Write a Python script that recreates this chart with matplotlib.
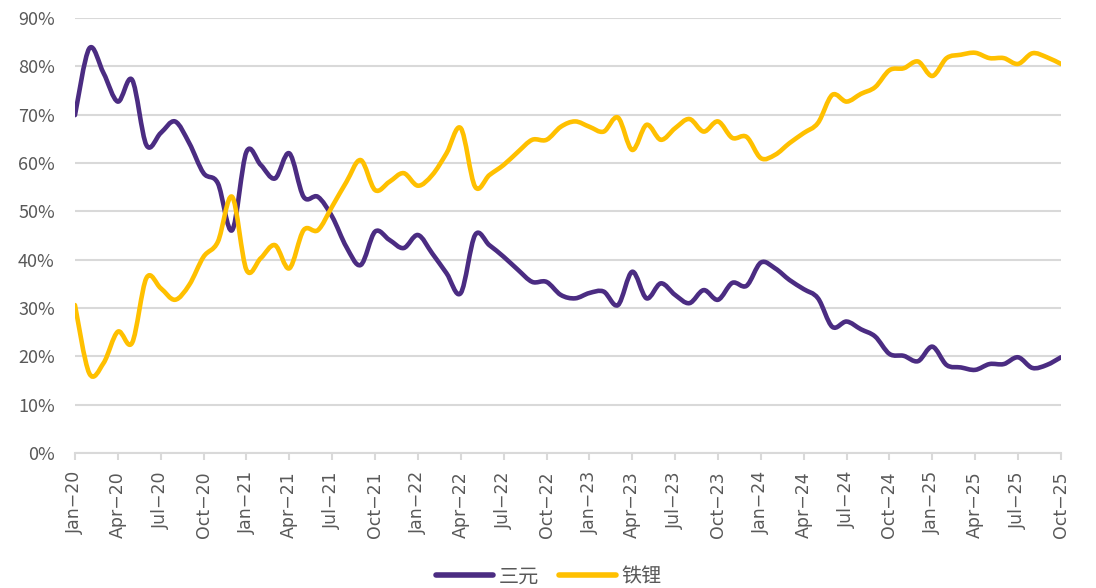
import matplotlib.pyplot as plt
from matplotlib.path import Path
from matplotlib.patches import PathPatch
import numpy as np

# Monthly share of installations, Jan-20 .. Oct-25 (%)
months = [f"{m}-{y}" for y in range(20, 26)
          for m in ["Jan", "Feb", "Mar", "Apr", "May", "Jun",
                    "Jul", "Aug", "Sep", "Oct", "Nov", "Dec"]][:70]

ternary = [69.9, 83.7, 78.6, 72.7, 77.2, 63.7, 66.2, 68.6, 64.1, 57.9,
           55.8, 46.1, 62.3, 59.6, 56.8, 62.0, 53.0, 53.0, 48.9, 42.6,
           38.9, 45.8, 44.1, 42.4, 45.1, 41.3, 37.2, 33.1, 45.1, 43.0,
           40.6, 37.9, 35.4, 35.4, 32.7, 32.0, 33.1, 33.4, 30.6, 37.5,
           32.0, 35.1, 32.7, 31.0, 33.7, 31.7, 35.2, 34.6, 39.4, 38.2,
           35.8, 33.9, 32.0, 26.1, 27.2, 25.6, 24.1, 20.5, 20.1, 19.0,
           22.0, 18.2, 17.7, 17.2, 18.4, 18.4, 19.8, 17.6, 18.2, 19.8]

lfp = [30.6, 16.5, 18.6, 25.1, 22.8, 36.2, 34.1, 31.7, 34.8, 40.6,
       43.7, 53.0, 37.9, 40.3, 43.0, 38.2, 46.1, 46.1, 51.0, 56.1,
       60.6, 54.4, 56.1, 57.9, 55.3, 57.5, 62.0, 67.2, 55.1, 57.5,
       59.6, 62.3, 64.8, 64.8, 67.5, 68.6, 67.5, 66.5, 69.4, 62.7,
       67.9, 64.8, 67.2, 69.1, 66.5, 68.6, 65.2, 65.4, 61.0, 61.7,
       64.1, 66.2, 68.3, 74.1, 72.7, 74.3, 75.7, 79.2, 79.6, 81.0,
       78.0, 81.7, 82.4, 82.8, 81.7, 81.7, 80.5, 82.7, 81.9, 80.5]

series = [("三元", ternary, "#4B2C82"), ("铁锂", lfp, "#FFC000")]

plt.rcParams['font.family'] = ['Noto Sans CJK SC', 'DejaVu Sans']


def smooth_path(xs, ys):
    # Excel-style smoothed line: cubic Bezier through every data point
    pts = np.column_stack([xs, ys])
    verts = [pts[0]]
    codes = [Path.MOVETO]
    n = len(pts)
    for i in range(n - 1):
        p0 = pts[max(i - 1, 0)]
        p1 = pts[i]
        p2 = pts[i + 1]
        p3 = pts[min(i + 2, n - 1)]
        c1 = p1 + (p2 - p0) / 6.0
        c2 = p2 - (p3 - p1) / 6.0
        verts += [c1, c2, p2]
        codes += [Path.CURVE4] * 3
    return Path(verts, codes)


fig = plt.figure(figsize=(10.96, 5.88), dpi=100)
ax = fig.add_axes([0.0684, 0.2296, 0.8996, 0.7398])

x = np.arange(len(months))
for name, vals, color in series:
    ax.add_patch(PathPatch(smooth_path(x, np.array(vals) / 100.0),
                           facecolor='none', edgecolor=color, lw=3.3,
                           capstyle='round', joinstyle='round', zorder=3))
    ax.plot([], [], color=color, lw=4, label=name, solid_capstyle='round')

ax.set_xlim(0, len(months) - 1)
ax.set_ylim(0, 0.9)
ax.set_yticks(np.arange(0, 0.91, 0.1))
ax.set_yticklabels([f"{int(round(v * 100))}%" for v in np.arange(0, 0.91, 0.1)])
ax.set_xticks(x[::3])
ax.set_xticklabels([months[i].replace("-", "\u2212") for i in x[::3]], rotation=90,
                   family='DejaVu Sans')

ax.grid(True, axis='y', color='#d9d9d9', lw=1.5, zorder=0)
for s in ['left', 'right', 'top']:
    ax.spines[s].set_visible(False)
ax.spines['bottom'].set_color('#d9d9d9')
ax.spines['bottom'].set_linewidth(1.5)
ax.tick_params(axis='x', colors='#d9d9d9', length=5, width=1.5, labelcolor='#595959',
               labelsize=12.5, pad=8)
ax.tick_params(axis='y', length=0, labelcolor='#595959', labelsize=13, pad=14.5)

fig.legend(loc='center', bbox_to_anchor=(0.501, 0.019), ncol=2, frameon=False,
           fontsize=14.5, handlelength=2.8, columnspacing=1.0, handletextpad=0.3,
           labelcolor='#595959')

fig.savefig("out.png", dpi=100)
